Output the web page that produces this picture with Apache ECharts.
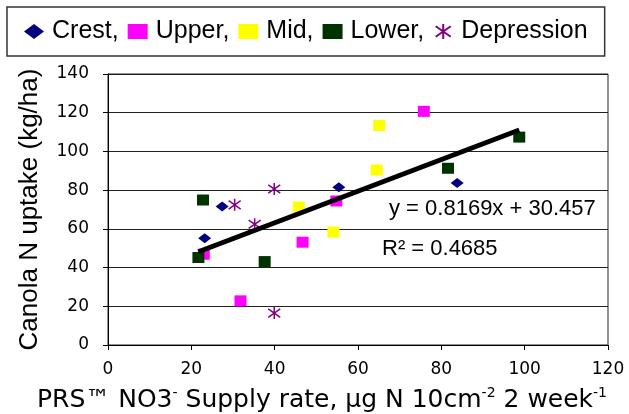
<!DOCTYPE html>
<html>
<head>
<meta charset="utf-8">
<script src="https://cdn.jsdelivr.net/npm/echarts@6/dist/echarts.min.js"></script>
<style>
  html, body { margin: 0; padding: 0; background: #fff; }
  #chart { width: 629px; height: 414px; }
</style>
</head>
<body>
<div id="chart"></div>
<script>
// ---- data ----
const seriesNames = ['Crest', 'Upper', 'Mid', 'Lower', 'Depression'];
const crestX = [23.2, 27.4, 55.4, 83.8];
const crestY = [55.2, 71.5, 81.5, 83.7];
const upperX = [23.0, 31.8, 46.7, 54.8, 75.8];
const upperY = [46.9, 22.8, 53.1, 74.4, 120.7];
const midX = [45.8, 54.1, 64.5, 65.1];
const midY = [71.3, 58.3, 90.4, 113.4];
const lowerX = [21.7, 22.8, 37.6, 81.6, 98.7];
const lowerY = [45.2, 74.9, 43.1, 91.3, 107.4];
const depressionX = [30.4, 35.2, 39.9, 39.9];
const depressionY = [72.4, 62.4, 80.6, 16.5];
// trend line (linear fit shown on chart)
const trendSlope = 0.8169;
const trendIntercept = 30.457;
const equationText = 'y = 0.8169x + 30.457';
const r2Text = 'R\u00B2 = 0.4685';
// axes
const xTicks = [0, 20, 40, 60, 80, 100, 120];
const yTicks = [0, 20, 40, 60, 80, 100, 120, 140];

function pairs(xs, ys) { return xs.map((x, i) => [x, ys[i]]); }
const allX = [].concat(crestX, upperX, midX, lowerX, depressionX);
const xMin = Math.min.apply(null, allX);
const xMax = Math.max.apply(null, allX);
const trendData = [[xMin, trendSlope * xMin + trendIntercept], [xMax, trendSlope * xMax + trendIntercept]];

const asterisk = 'path://M10,0L10,20M0,3L20,17M0,17L20,3';
const FONT = '"Liberation Sans", Arial, sans-serif';

const chart = echarts.init(document.getElementById('chart'), null, { renderer: 'canvas' });
chart.setOption({
  animation: false,
  backgroundColor: '#fff',
  grid: {
    left: 108, right: 21, top: 74, bottom: 69,
    containLabel: false, outerBoundsMode: 'none',
    show: true, borderColor: '#222', borderWidth: 1, backgroundColor: 'transparent'
  },
  legend: {
    data: seriesNames,
    left: 7, top: 7,
    padding: [12, 17, 12, 17],
    borderColor: '#333', borderWidth: 1.5,
    itemWidth: 20, itemHeight: 15,
    itemGap: 9,
    textStyle: { fontFamily: FONT, fontSize: 25, color: '#000', padding: [0, 0, 0, 3] },
    formatter: function (n) { return n === 'Depression' ? n : n + ','; }
  },
  xAxis: {
    type: 'value', min: xTicks[0], max: xTicks[xTicks.length - 1], interval: 20,
    axisLine: { show: true, lineStyle: { color: '#000', width: 1 } },
    axisTick: { show: true, length: 5, lineStyle: { color: '#000' } },
    splitLine: { show: false },
    axisLabel: { fontFamily: '"DejaVu Sans", sans-serif', fontSize: 17, color: '#000', margin: 16 },
    name: '{n|PRS\u2122 NO3}{s|-}{n| Supply rate, \u00B5g N 10cm}{s|-2}{n| 2 week}{s|-1}',
    nameLocation: 'middle', nameGap: 41,
    nameTextStyle: {
      padding: [0, 72, 0, 0],
      rich: {
        n: { fontFamily: '"DejaVu Sans", sans-serif', fontSize: 25, lineHeight: 28, color: '#000' },
        s: { fontFamily: '"DejaVu Sans", sans-serif', fontSize: 14, lineHeight: 16, verticalAlign: 'top', color: '#000' }
      }
    }
  },
  yAxis: {
    type: 'value', min: yTicks[0], max: yTicks[yTicks.length - 1], interval: 20,
    axisLine: { show: true, lineStyle: { color: '#000', width: 1 } },
    axisTick: { show: true, length: 5, lineStyle: { color: '#000' } },
    splitLine: { show: true, lineStyle: { color: '#222', width: 1 } },
    axisLabel: { fontFamily: '"DejaVu Sans", sans-serif', fontSize: 17, color: '#000', margin: 19 },
    name: 'Canola N uptake (kg/ha)',
    nameLocation: 'middle', nameGap: 65,
    nameTextStyle: { fontFamily: FONT, fontSize: 26, color: '#000' }
  },
  graphic: [
    { type: 'text', left: 389, top: 198, style: { text: equationText, font: '22px "Liberation Sans", Arial, sans-serif', fill: '#000' } },
    { type: 'text', left: 382, top: 238, style: { text: r2Text, font: '22px "Liberation Sans", Arial, sans-serif', fill: '#000' } }
  ],
  series: [
    { name: 'Crest', type: 'scatter', symbol: 'diamond', symbolSize: [13, 10],
      itemStyle: { color: '#000080', opacity: 1 }, data: pairs(crestX, crestY), z: 3 },
    { name: 'Upper', type: 'scatter', symbol: 'rect', symbolSize: [12, 11],
      itemStyle: { color: '#FF00FF', opacity: 1 }, data: pairs(upperX, upperY), z: 3 },
    { name: 'Mid', type: 'scatter', symbol: 'rect', symbolSize: [12, 11],
      itemStyle: { color: '#FFFF00', opacity: 1 }, data: pairs(midX, midY), z: 3 },
    { name: 'Lower', type: 'scatter', symbol: 'rect', symbolSize: [12, 11],
      itemStyle: { color: '#003300', opacity: 1 }, data: pairs(lowerX, lowerY), z: 3 },
    { name: 'Depression', type: 'scatter', symbol: asterisk, symbolSize: [12, 12],
      itemStyle: { color: 'none', borderColor: '#800080', borderWidth: 1.5, opacity: 1 }, data: pairs(depressionX, depressionY), z: 3 },
    { name: 'Trend', type: 'line', data: trendData, symbol: 'none', z: 5,
      lineStyle: { color: '#000', width: 5 }, silent: true }
  ]
});
</script>
</body>
</html>
